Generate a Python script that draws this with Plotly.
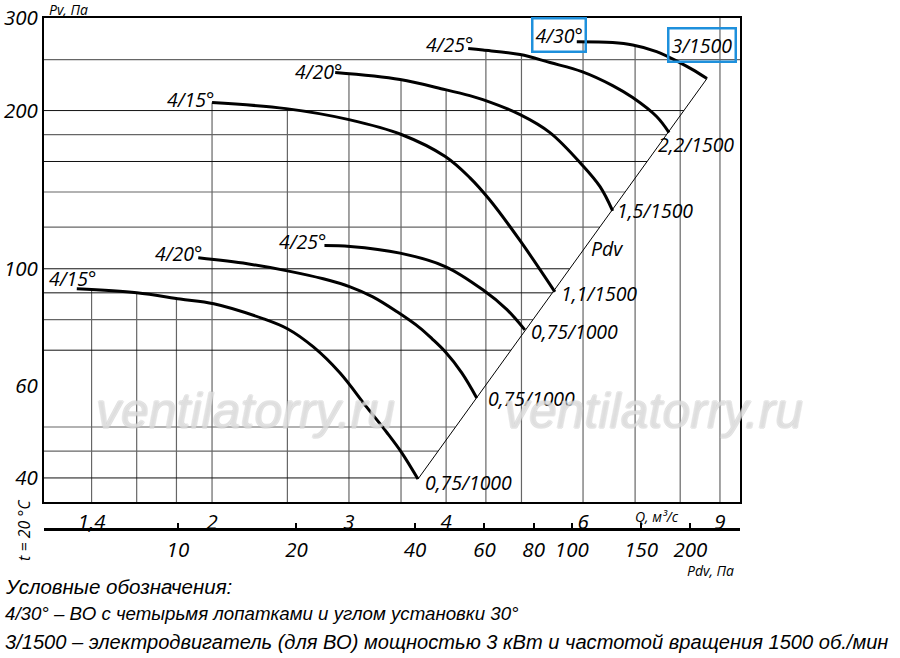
import numpy as np
import plotly.graph_objects as go

# Q, м³/с  and  Pv, Па
# upper group: 1500 об/мин
up15_q = [2.0, 2.49, 3.0, 3.51, 3.99, 4.29, 4.55, 4.98, 5.52]
up15_p = [207.1, 201.7, 192.2, 179.9, 163.5, 149.1, 135.3, 113.1, 90.4]
up20_q = [2.88, 3.49, 3.99, 4.29, 4.46, 4.98, 5.44, 5.98, 6.31, 6.55]
up20_p = [236.2, 229.1, 219.2, 213.5, 209.8, 196.5, 181.6, 157.8, 143.3, 128.9]
up25_q = [4.27, 4.46, 4.98, 5.44, 5.98, 6.55, 6.95, 7.46, 7.74]
up25_p = [262.4, 260.7, 255.7, 246.8, 237.2, 223.1, 211.7, 194.8, 181.6]
up30_q = [5.89, 6.55, 6.95, 7.46, 7.99, 8.30, 8.66]
up30_p = [270.5, 269.4, 266.5, 259.0, 246.8, 239.3, 230.1]
# lower group: 1000 об/мин
lo15_q = [1.34, 1.60, 1.82, 2.01, 2.33, 2.50, 2.70, 2.92, 3.16, 3.36, 3.51, 3.68]
lo15_p = [91.6, 90.0, 87.6, 85.8, 80.3, 76.9, 71.0, 63.4, 54.6, 48.7, 44.6, 39.8]
lo20_q = [1.92, 2.22, 2.50, 2.78, 3.01, 3.22, 3.46, 3.70, 3.84, 3.99, 4.19, 4.38]
lo20_p = [104.9, 102.2, 99.1, 95.7, 92.4, 88.4, 82.8, 77.2, 73.5, 69.5, 63.4, 56.8]
lo25_q = [2.79, 3.01, 3.49, 3.99, 4.46, 4.79, 5.05]
lo25_p = [110.7, 110.3, 107.1, 101.0, 91.2, 83.6, 76.5]

# Pdv line through the curve ends
pdv_q = [3.68, 8.66]
pdv_p = [39.8, 230.1]

blade_labels = ["4/15°", "4/20°", "4/25°", "4/30°", "4/15°", "4/20°", "4/25°"]
motor_labels = ["1,1/1500", "1,5/1500", "2,2/1500", "3/1500",
                "0,75/1000", "0,75/1000", "0,75/1000"]

q_ticks = [1.4, 2, 3, 4, 6, 9]
q_ticktext = ["1,4", "2", "3", "4", "6", "9"]
p_ticks = [40, 60, 100, 200, 300]
pdv_ticks = [10, 20, 40, 60, 80, 100, 150, 200]

q_grid = [1.4, 1.6, 1.8, 2, 2.5, 3, 3.5, 4, 4.5, 5, 6, 7, 8, 9]
p_grid = [40, 45, 50, 70, 80, 90, 100, 120, 140, 160, 180, 200, 250]
p_grid_dark = {40, 70, 90, 100, 160, 200}   # drawn in black, the rest gray

curves = [(up15_q, up15_p), (up20_q, up20_p), (up25_q, up25_p), (up30_q, up30_p),
          (lo15_q, lo15_p), (lo20_q, lo20_p), (lo25_q, lo25_p)]

Q_MIN, Q_MAX = 1.216, 9.55
P_MIN, P_MAX = 36, 300

# label offsets (px) from curve start / end
start_shift = [(-22, 3), (-17, 1), (-19, 4), (-18, 7), (-4, 10), (-20, 4), (-22, 4)]
end_shift = [(44, -2), (42, 0), (27, -12), (-5, 34), (51, -3), (55, -1), (50, -2)]
boxed = [False, False, False, True, False, False, False]

W, H = 900, 658
ML, MR, MT, MB = 44, 160, 18, 129
PW, PH = W - ML - MR, H - MT - MB
DOM0 = 27 / PH

LBL = dict(family="Open Sans, DejaVu Sans", size=19.5, color="black", style="italic")
NARROW = dict(family="Liberation Sans Narrow, Liberation Sans, Arial", size=18.7,
              color="black", style="italic")


def lg(v):
    return np.log10(v)


def on_curve(q, qs, ps):
    if q < qs[0] or q > qs[-1]:
        return None
    return 10 ** np.interp(lg(q), lg(qs), lg(ps))


def px(x):
    return (x - ML) / PW


def py(y):
    return (H - MB - y) / PH


fig = go.Figure()

# grid: horizontals stop at the Pdv line, verticals stop under the top curve
dark_x, dark_y, gray_x, gray_y = [], [], [], []
for p in p_grid:
    if p <= pdv_p[1]:
        q_end = 10 ** np.interp(lg(p), lg(pdv_p), lg(pdv_q))
    else:
        q_end = Q_MAX
    if p in p_grid_dark:
        dark_x += [Q_MIN, q_end, None]
        dark_y += [p, p, None]
    else:
        gray_x += [Q_MIN, q_end, None]
        gray_y += [p, p, None]
for q in q_grid:
    tops = [on_curve(q, cq, cp) for cq, cp in curves]
    tops = [t for t in tops if t is not None]
    gray_x += [q, q, None]
    gray_y += [P_MIN, max(tops) if tops else P_MAX, None]
fig.add_trace(go.Scatter(x=gray_x, y=gray_y, mode="lines", line=dict(color="#666666", width=1.2),
                         hoverinfo="skip", showlegend=False))
fig.add_trace(go.Scatter(x=dark_x, y=dark_y, mode="lines", line=dict(color="#111111", width=1),
                         hoverinfo="skip", showlegend=False))

fig.add_trace(go.Scatter(x=pdv_q, y=pdv_p, mode="lines", line=dict(color="black", width=1),
                         hoverinfo="skip", showlegend=False))

for cq, cp in curves:
    fig.add_trace(go.Scatter(x=cq, y=cp, mode="lines",
                             line=dict(color="black", width=3, shape="spline", smoothing=1.0),
                             showlegend=False))

# dummy trace so the Pdv scale is drawn
fig.add_trace(go.Scatter(x=[pdv_ticks[0], pdv_ticks[-1]], y=[P_MIN, P_MIN], xaxis="x2",
                         mode="markers", marker=dict(opacity=0), hoverinfo="skip",
                         showlegend=False))

ann = []
for i, (cq, cp) in enumerate(curves):
    box = dict(bordercolor="#1e90dc", borderwidth=2.5, borderpad=2) if boxed[i] else {}
    ann.append(dict(x=lg(cq[0]), y=lg(cp[0]), text=blade_labels[i], showarrow=False,
                    xanchor="center", yanchor="middle", xshift=start_shift[i][0],
                    yshift=start_shift[i][1], font=LBL, **box))
    ann.append(dict(x=lg(cq[-1]), y=lg(cp[-1]), text=motor_labels[i], showarrow=False,
                    xanchor="center", yanchor="middle", xshift=end_shift[i][0],
                    yshift=end_shift[i][1], font=LBL, **box))

t = 0.575
ann.append(dict(x=lg(pdv_q[0]) + t * (lg(pdv_q[1]) - lg(pdv_q[0])),
                y=lg(pdv_p[0]) + t * (lg(pdv_p[1]) - lg(pdv_p[0])),
                text="Pdv", showarrow=False, xanchor="center", yanchor="middle",
                xshift=23, font=LBL))

small = dict(LBL, size=14)
ann += [
    dict(x=px(47), y=py(9), xref="paper", yref="paper", text="Pv, Па", showarrow=False,
         xanchor="left", yanchor="middle", font=small),
    dict(x=px(657), y=py(516), xref="paper", yref="paper", text="Q, м³/с", showarrow=False,
         xanchor="center", yanchor="middle", font=small),
    dict(x=px(710), y=py(571), xref="paper", yref="paper", text="Pdv, Па", showarrow=False,
         xanchor="center", yanchor="middle", font=small),
    dict(x=px(24), y=py(530), xref="paper", yref="paper", text="t = 20 °C", showarrow=False,
         textangle=-90, xanchor="center", yanchor="middle", font=dict(LBL, size=16)),
]

for cx in (245, 653):
    ann.append(dict(x=px(cx), y=py(411), xref="paper", yref="paper", text="ventilatorry.ru",
                    showarrow=False, xanchor="center", yanchor="middle",
                    font=dict(family="Liberation Sans, Arial", size=50, style="italic",
                              color="rgba(255,255,255,0.35)",
                              shadow="1px 0 0 #c4c4c4, -1px 0 0 #c4c4c4, "
                                     "0 1px 0 #c4c4c4, 0 -1px 0 #c4c4c4")))

legend = ["Условные обозначения:",
          "4/30° – ВО с четырьмя лопатками и углом установки 30°",
          "3/1500 – электродвигатель (для ВО) мощностью 3 кВт и частотой вращения 1500 об./мин"]
legend_size = [20.5, 18.7, 20.1]
for line, cy, fs in zip(legend, (586, 613, 642), legend_size):
    ann.append(dict(x=px(3), y=py(cy), xref="paper", yref="paper", text=line,
                    showarrow=False, xanchor="left", yanchor="middle",
                    font=dict(NARROW, size=fs)))

tickfont = dict(LBL, size=20.5)
fig.update_layout(
    width=W, height=H, margin=dict(l=ML, r=MR, t=MT, b=MB),
    paper_bgcolor="white", plot_bgcolor="white",
    annotations=ann,
    xaxis=dict(type="log", range=[lg(Q_MIN), lg(Q_MAX)], tickvals=q_ticks,
               ticktext=q_ticktext, ticks="", showgrid=False, zeroline=False,
               showline=True, mirror=True, linecolor="black", linewidth=2,
               tickfont=tickfont, anchor="y", automargin=False),
    xaxis2=dict(type="log", range=[0.660, 2.427], overlaying="x", anchor="free",
                position=0, side="bottom", tickvals=pdv_ticks, ticks="inside",
                ticklen=5, tickwidth=1.5, tickcolor="black", showgrid=False,
                zeroline=False, showline=True, linecolor="black", linewidth=2.5,
                tickfont=tickfont, ticklabelstandoff=2, automargin=False),
    yaxis=dict(type="log", range=[lg(P_MIN), lg(P_MAX)], domain=[DOM0, 1],
               tickvals=p_ticks, ticks="", showgrid=False, zeroline=False,
               showline=True, mirror=True, linecolor="black", linewidth=2,
               tickfont=tickfont, automargin=False),
)

fig.write_html("out.html", config={"displayModeBar": False},
               post_script="document.body.style.margin='0';document.body.style.padding='0';")
